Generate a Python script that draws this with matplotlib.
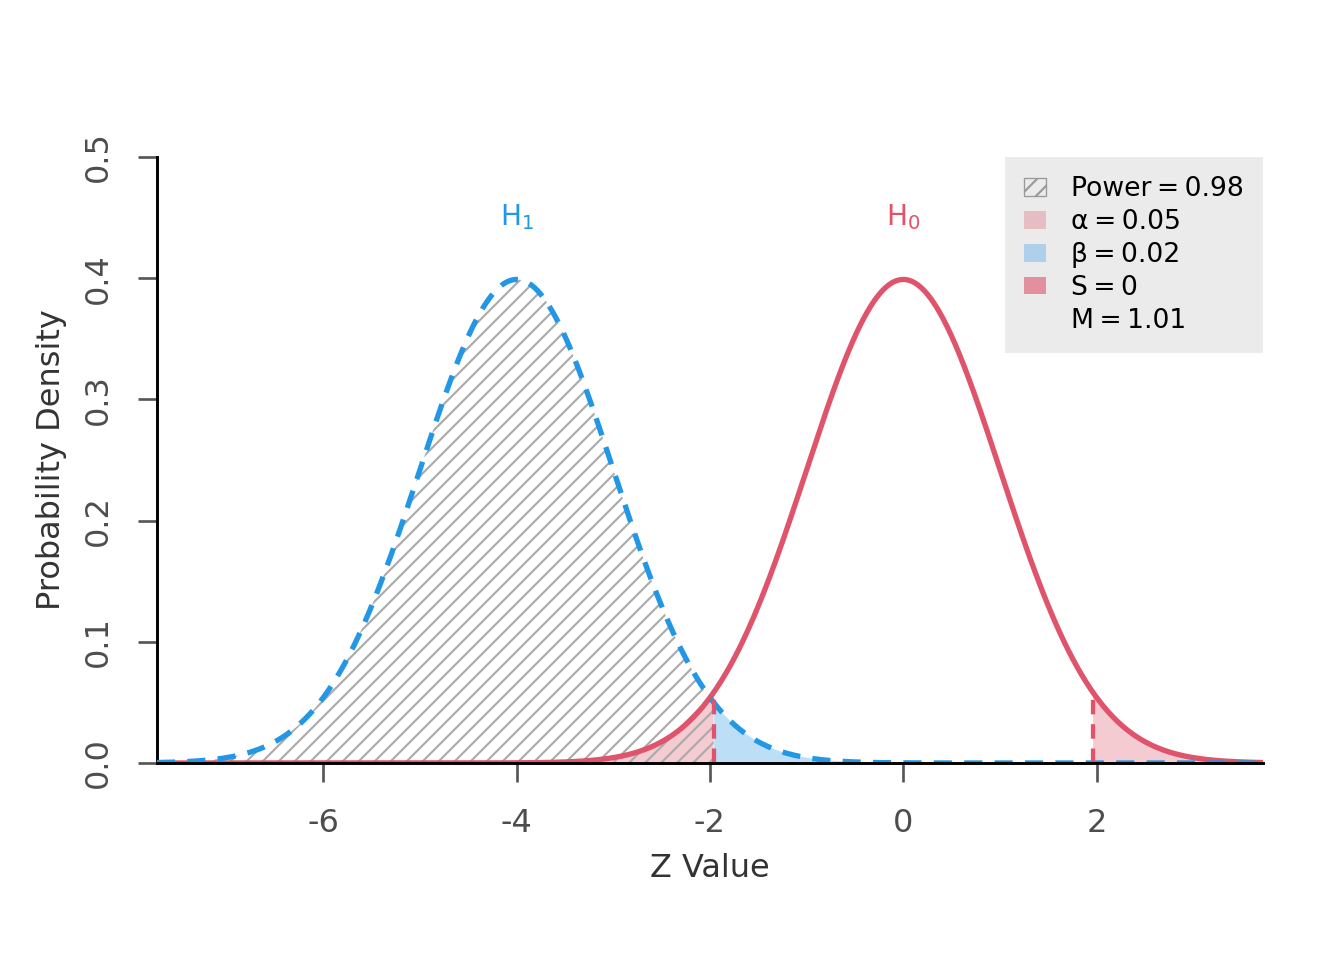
import numpy as np
import matplotlib
matplotlib.use("Agg")
import matplotlib.pyplot as plt
from matplotlib.patches import Patch

# distributions and test settings
mean_h0 = 0.0
mean_h1 = -4.0
sd = 1.0
z_crit = 1.96
x_min, x_max = -7.72, 3.72

x_ticks = [-6, -4, -2, 0, 2]
y_ticks = [0.0, 0.1, 0.2, 0.3, 0.4, 0.5]
thin = "\u2009"
legend_labels = [f"Power{thin}={thin}0.98", f"α{thin}={thin}0.05", f"β{thin}={thin}0.02",
                 f"S{thin}={thin}0", f"M{thin}={thin}1.01"]

red = "#DF536B"
blue = "#2297E6"
grey_txt = "#4D4D4D"

plt.rcParams["axes.unicode_minus"] = False
plt.rcParams["hatch.linewidth"] = 0.8
plt.rcParams["mathtext.fontset"] = "dejavusans"


def dens(x, mu):
    return np.exp(-0.5 * ((x - mu) / sd) ** 2) / (sd * np.sqrt(2 * np.pi))


x = np.linspace(x_min, x_max, 2000)
y0 = dens(x, mean_h0)
y1 = dens(x, mean_h1)

fig = plt.figure(figsize=(7, 5), dpi=192)
ax = fig.add_axes([0.1168, 0.2052, 0.8229, 0.6313])

# alpha regions under H0
ax.fill_between(x, 0, y0, where=x <= -z_crit, facecolor=red, alpha=0.3, linewidth=0)
ax.fill_between(x, 0, y0, where=x >= z_crit, facecolor=red, alpha=0.3, linewidth=0)
# beta region under H1
ax.fill_between(x, 0, y1, where=x >= -z_crit, facecolor=blue, alpha=0.3, linewidth=0)
# power region under H1
ax.fill_between(x, 0, y1, where=x <= -z_crit, facecolor="none", edgecolor="#AAAAAA",
                hatch="////", linewidth=0)

ax.plot(x, y0, color=red, lw=2, zorder=4)
ax.plot(x, y1, color=blue, lw=2, ls=(0, (3.4, 2.3)), zorder=5)
for zc in [-z_crit, z_crit]:
    ax.plot([zc, zc], [0, dens(zc, mean_h0)], color=red, lw=1.6, ls=(0, (3.4, 2.3)), zorder=6)

ax.text(mean_h1, 0.45, r"$\mathrm{H}_1$", color=blue, fontsize=10.5, ha="center", va="center")
ax.text(mean_h0, 0.45, r"$\mathrm{H}_0$", color=red, fontsize=10.5, ha="center", va="center")

ax.set_xlim(x_min, x_max)
ax.set_ylim(0, 0.5)
ax.set_xticks(x_ticks)
ax.set_xticklabels([str(t) for t in x_ticks])
ax.set_yticks(y_ticks)
ax.set_yticklabels([f"{t:.1f}" for t in y_ticks], rotation=90, va="center")
ax.tick_params(axis="both", colors="#555555", labelcolor=grey_txt, labelsize=12,
               length=7, width=1)
ax.tick_params(axis="x", pad=10)
ax.tick_params(axis="y", pad=9)

for s in ["top", "right"]:
    ax.spines[s].set_visible(False)
ax.spines["left"].set_linewidth(1.1)
ax.spines["bottom"].set_linewidth(1.1)
ax.spines["bottom"].set_zorder(7)

ax.set_xlabel("Z Value", fontsize=12, color="#333333", labelpad=5)
ax.set_ylabel("Probability Density", fontsize=12, color="#333333", labelpad=6)

handles = [
    Patch(facecolor="none", edgecolor="#999999", hatch="////", linewidth=0.5),
    Patch(facecolor=red, alpha=0.3, edgecolor="none"),
    Patch(facecolor=blue, alpha=0.3, edgecolor="none"),
    Patch(facecolor=red, alpha=0.6, edgecolor="none"),
    Patch(facecolor="none", edgecolor="none"),
]
leg = ax.legend(handles, legend_labels, loc="upper right", bbox_to_anchor=(1, 1),
                borderaxespad=0, frameon=True, fancybox=False, facecolor="#EBEBEB",
                edgecolor="none", framealpha=1, fontsize=10, handlelength=0.8,
                handleheight=0.65, handletextpad=0.95, labelspacing=0.26,
                borderpad=0.72)

fig.savefig("out.png", dpi=192)
